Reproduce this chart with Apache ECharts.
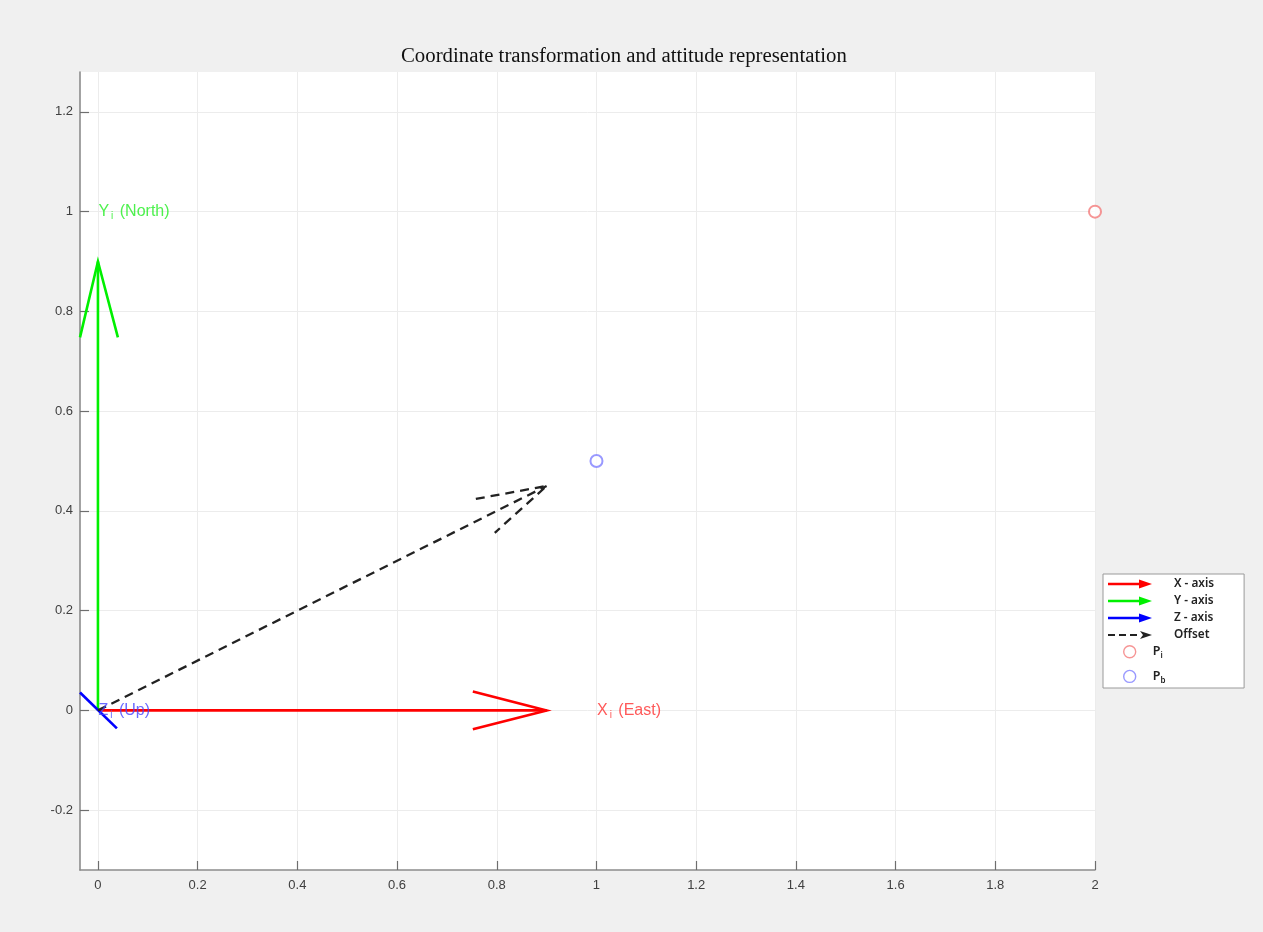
<!DOCTYPE html>
<html>
<head>
<meta charset="utf-8">
<script src="https://cdn.jsdelivr.net/npm/echarts@6/dist/echarts.min.js"></script>
<style>
  html, body { margin: 0; padding: 0; background: #f0f0f0; }
  #chart { width: 1263px; height: 932px; }
</style>
</head>
<body>
<div id="chart"></div>
<script>
// ---- data (axis units) ----
const xRange = [-0.036, 2];
const yRange = [-0.32, 1.28];
const xTickValues = [0, 0.2, 0.4, 0.6, 0.8, 1, 1.2, 1.4, 1.6, 1.8, 2];
const yTickValues = [-0.2, 0, 0.2, 0.4, 0.6, 0.8, 1, 1.2];

// inertial frame arrows: shaft and the two-winged head
const xArrowShaft = [[0, 0], [0.9, 0]];
const xArrowHead = [[0.752, 0.038], [0.9, 0], [0.752, -0.038]];
const yArrowShaft = [[0, 0], [0, 0.9]];
const yArrowHead = [[-0.036, 0.748], [0, 0.9], [0.04, 0.748]];
// Z points out of the page, only its head is visible
const zArrowHead = [[-0.036, 0.036], [0.038, -0.036]];
// translation between the frames
const offsetShaft = [[0, 0], [0.9, 0.45]];
const offsetHead = [[0.758, 0.424], [0.9, 0.45], [0.796, 0.356]];

// points
const pointI = [[2, 1]];
const pointB = [[1, 0.5]];

// axis annotations
const annotationAnchors = [[0, 1], [1, 0], [0, 0]];
const annotationLetters = ['Y', 'X', 'Z'];
const annotationSubs = ['i', 'i', 'i'];
const annotationNotes = ['(North)', '(East)', '(Up)'];

const legendNames = ['X - axis', 'Y - axis', 'Z - axis', 'Offset'];
const pointNames = ['Pi', 'Pb'];

// ---- styling ----
const RED = '#ff0000', GREEN = '#00f000', BLUE = '#0000ff', BLACK = '#222222';
const annotationColors = ['#22ee22', '#ff3030', '#4545ff'];

const solidArrowIcon = 'path://M0,3.8H31V0.6L44,5L31,9.4V6.2H0Z';
const dashedArrowIcon = 'path://M0,4H7V6H0Z M11,4H18V6H11Z M22,4H29V6H22Z M32,1L44,5L32,9L35,5Z';

function segment(name, data, color, dashed) {
  return {
    type: 'line',
    name: name,
    data: data,
    symbol: 'none',
    clip: false,
    silent: true,
    animation: false,
    itemStyle: { color: color },
    lineStyle: { color: color, width: dashed ? 2.3 : 2.6, type: dashed ? [9, 6] : 'solid', cap: 'butt', join: 'miter' }
  };
}

const chart = echarts.init(document.getElementById('chart'), null, { renderer: 'canvas' });

const option = {
  backgroundColor: '#f0f0f0',
  animation: false,
  title: {
    text: 'Coordinate transformation and attitude representation',
    left: 396,
    top: 41,
    textStyle: { fontFamily: 'Liberation Serif', fontSize: 20.8, fontWeight: 'normal', color: '#111' }
  },
  grid: {
    left: 80, right: 168, top: 72, bottom: 62,
    show: true, backgroundColor: '#ffffff', borderWidth: 0
  },
  xAxis: {
    type: 'value',
    min: xRange[0], max: xRange[1],
    splitNumber: 10,
    axisLine: { show: true, onZero: false, lineStyle: { color: '#8c8c8c', width: 1.6 } },
    axisTick: { show: true, inside: true, length: 9, customValues: xTickValues, lineStyle: { color: '#6e6e6e', width: 1.2 } },
    axisLabel: { customValues: xTickValues, color: '#404040', fontFamily: 'Liberation Sans', fontSize: 13, margin: 9 },
    splitLine: { show: true, lineStyle: { color: '#ececec', width: 1 } }
  },
  yAxis: {
    type: 'value',
    min: yRange[0], max: yRange[1],
    splitNumber: 8,
    axisLine: { show: true, onZero: false, lineStyle: { color: '#8c8c8c', width: 1.6 } },
    axisTick: { show: true, inside: true, length: 9, customValues: yTickValues, lineStyle: { color: '#6e6e6e', width: 1.2 } },
    axisLabel: { customValues: yTickValues, color: '#404040', fontFamily: 'Liberation Sans', fontSize: 13, margin: 7 },
    splitLine: { show: true, lineStyle: { color: '#ececec', width: 1 } }
  },
  legend: [
    {
      orient: 'vertical',
      left: 1103, top: 574,
      padding: [4, 30, 47, 5],
      itemWidth: 44, itemHeight: 10, itemGap: 5,
      backgroundColor: '#ffffff',
      borderColor: '#9a9a9a', borderWidth: 1,
      selectedMode: false,
      itemStyle: { borderWidth: 0 },
      textStyle: { fontFamily: 'Noto Sans', fontSize: 11.8, fontWeight: 600, color: '#222', lineHeight: 12, padding: [0, 0, 0, 17] },
      data: [
        { name: legendNames[0], icon: solidArrowIcon },
        { name: legendNames[1], icon: solidArrowIcon },
        { name: legendNames[2], icon: solidArrowIcon },
        { name: legendNames[3], icon: dashedArrowIcon }
      ]
    },
    {
      orient: 'vertical',
      left: 1123, top: 645,
      padding: 0,
      z: 6,
      itemWidth: 14, itemHeight: 12, itemGap: 10,
      selectedMode: false,
      formatter: function (name) { return '{b|P}{s|' + name.slice(1) + '}'; },
      textStyle: {
        padding: [0, 0, 0, 11],
        rich: {
          b: { fontFamily: 'Noto Sans', fontSize: 12.5, fontWeight: 600, color: '#222', lineHeight: 16, verticalAlign: 'middle' },
          s: { fontFamily: 'Noto Sans', fontSize: 8, fontWeight: 600, color: '#222', lineHeight: 6, verticalAlign: 'bottom' }
        }
      },
      data: [
        { name: pointNames[0], icon: 'circle', itemStyle: { color: '#ffffff', borderColor: '#f47a7a', borderWidth: 1.4 } },
        { name: pointNames[1], icon: 'circle', itemStyle: { color: '#ffffff', borderColor: '#7f7fff', borderWidth: 1.4 } }
      ]
    }
  ],
  series: [
    segment(legendNames[0], xArrowShaft, RED, false),
    segment(legendNames[0], xArrowHead, RED, false),
    segment(legendNames[1], yArrowShaft, GREEN, false),
    segment(legendNames[1], yArrowHead, GREEN, false),
    segment(legendNames[2], zArrowHead, BLUE, false),
    segment(legendNames[3], offsetShaft, BLACK, true),
    segment(legendNames[3], offsetHead, BLACK, true),
    {
      type: 'scatter', name: pointNames[0], data: pointI,
      symbol: 'emptyCircle', symbolSize: 12, clip: false, silent: true,
      itemStyle: { color: '#f47a7a', borderWidth: 1.4 }
    },
    {
      type: 'scatter', name: pointNames[1], data: pointB,
      symbol: 'emptyCircle', symbolSize: 12, clip: false, silent: true,
      itemStyle: { color: '#7f7fff', borderWidth: 1.4 }
    },
    {
      type: 'scatter', name: 'annotations',
      symbol: 'circle', symbolSize: 1, clip: false, silent: true, z: 5,
      itemStyle: { color: 'rgba(0,0,0,0)' },
      data: annotationAnchors.map(function (p, i) {
        const c = annotationColors[i];
        return {
          value: p,
          label: {
            show: true,
            position: 'right',
            distance: 0,
            formatter: '{m|' + annotationLetters[i] + '}{s|' + annotationSubs[i] + '}{m| ' + annotationNotes[i] + '}',
            rich: {
              m: { fontFamily: 'Liberation Sans', fontSize: 16, color: c, lineHeight: 20, verticalAlign: 'middle' },
              s: { fontFamily: 'Liberation Sans', fontSize: 10, color: c, lineHeight: 6, verticalAlign: 'bottom', padding: [0, 2, 0, 2] }
            }
          }
        };
      })
    }
  ]
};

chart.setOption(option);
</script>
</body>
</html>
